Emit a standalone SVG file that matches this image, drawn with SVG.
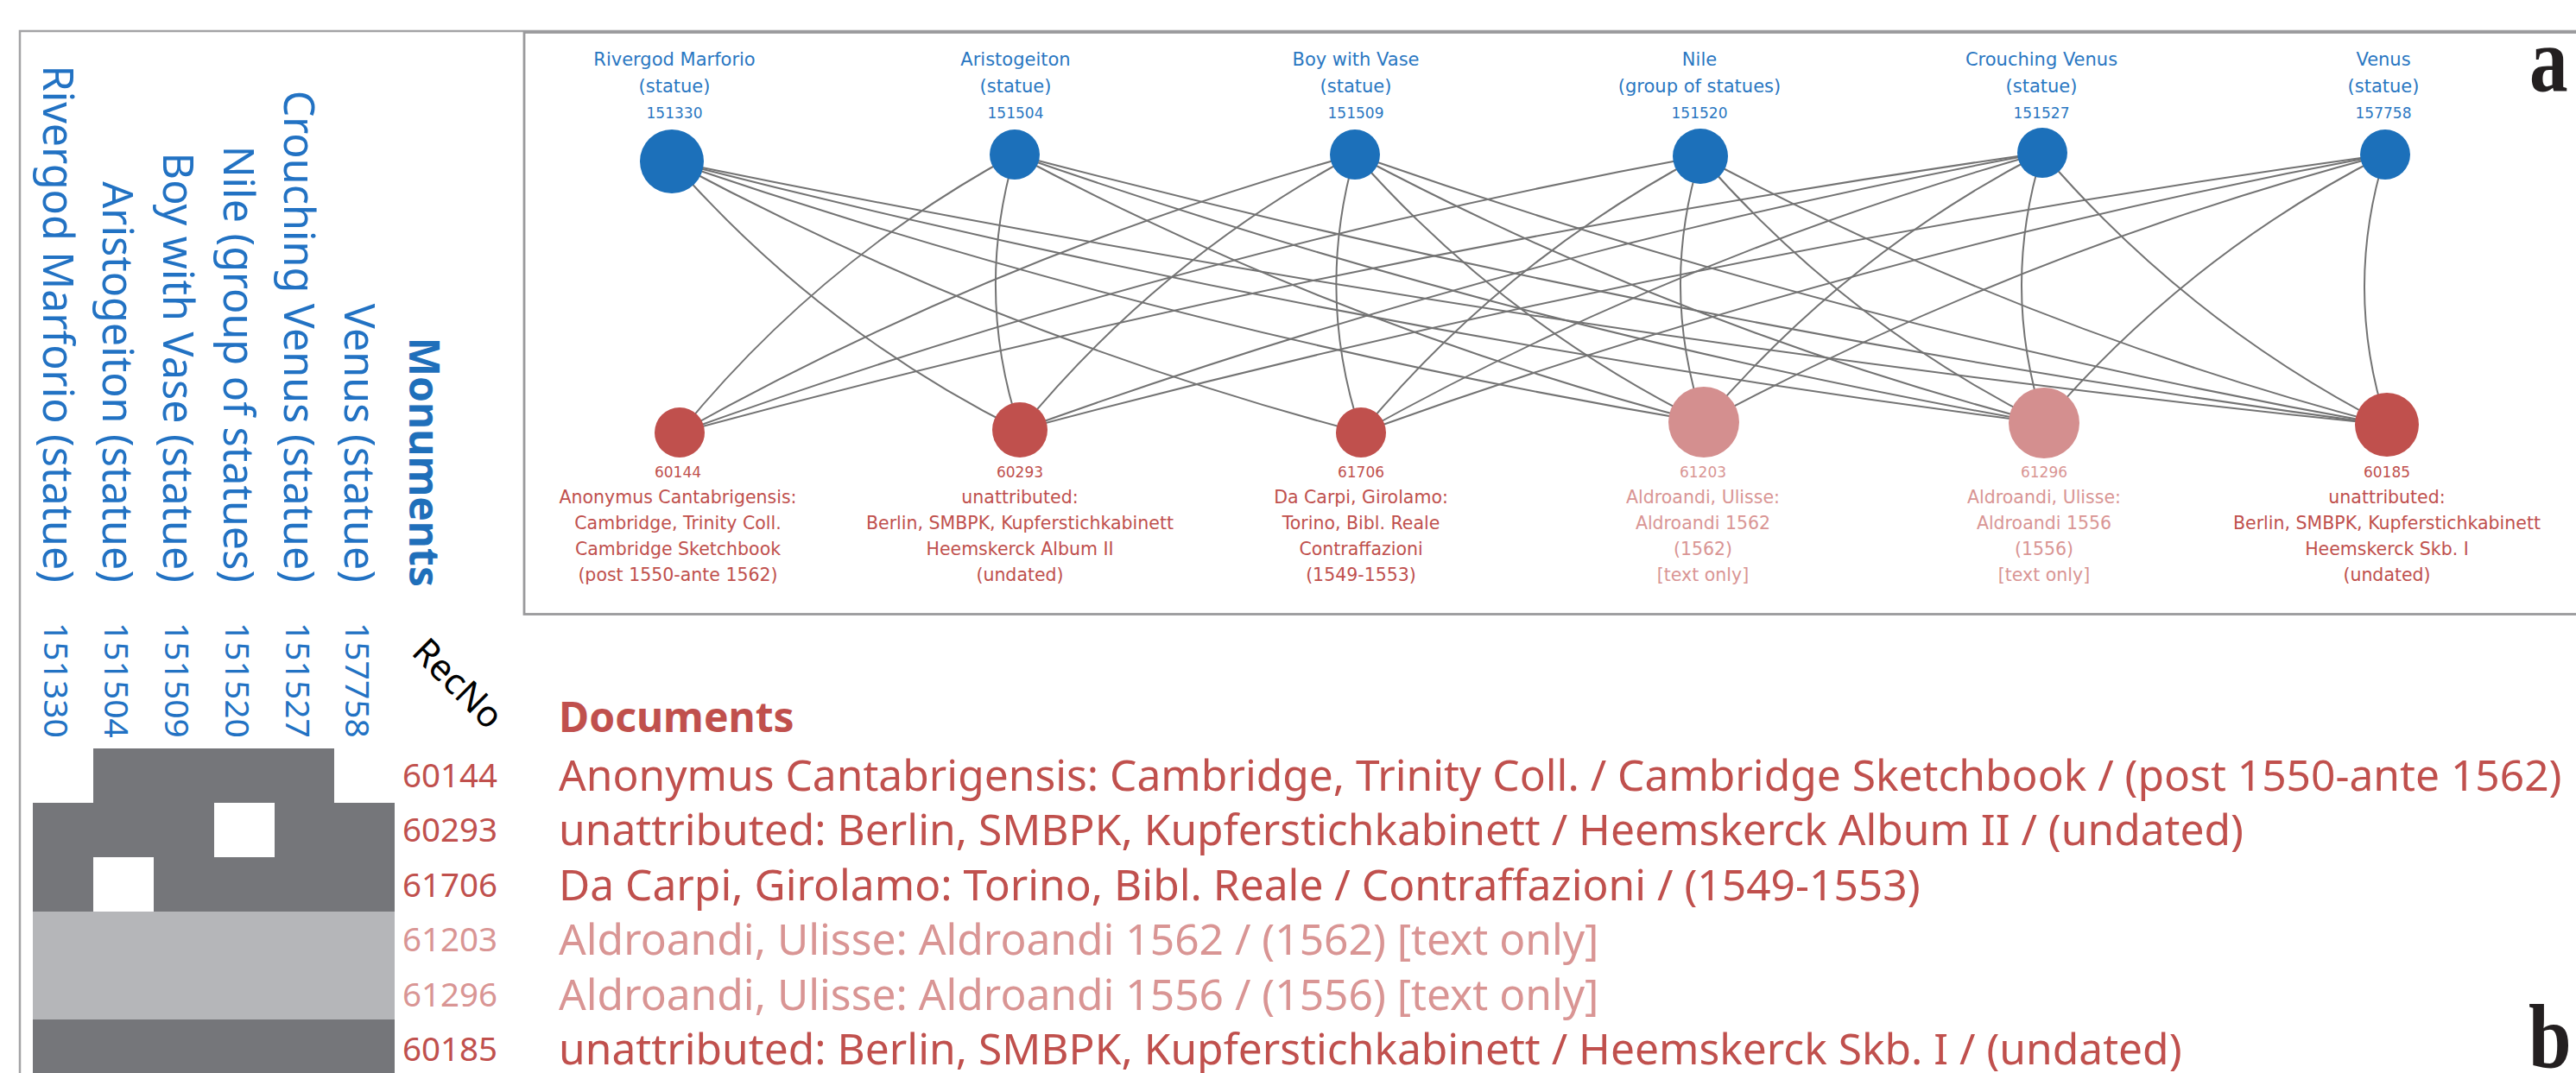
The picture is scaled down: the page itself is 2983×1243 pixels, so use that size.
<svg xmlns="http://www.w3.org/2000/svg" width="2983" height="1243" viewBox="0 0 2983 1243">
<style>
.edge{fill:none;stroke:#737373;stroke-width:2}
.mon{fill:#1c70ba}
.doc{fill:#c0504d}
.doct{fill:#d48f8f}
.tn{font-family:"DejaVu Sans",sans-serif;font-size:21px;fill:#2a77c2;text-anchor:middle}
.tid{font-family:"DejaVu Sans",sans-serif;font-size:17px;fill:#2a77c2;text-anchor:middle}
.bn{font-family:"DejaVu Sans",sans-serif;font-size:20.5px;fill:#c0504d;text-anchor:middle}
.bid{font-family:"DejaVu Sans",sans-serif;font-size:17px;fill:#c0504d;text-anchor:middle}
.cn{font-family:"Noto Sans",sans-serif;font-size:48.5px;fill:#2272c3}
.cid{font-family:"Noto Sans",sans-serif;font-size:39px;fill:#2272c3}
.rid{font-family:"Noto Sans",sans-serif;font-size:38.5px;fill:#c0504d}
.li{font-family:"Noto Sans",sans-serif;font-size:49.7px;fill:#c0504d}
.hd{font-family:"Noto Sans",sans-serif;font-size:48px;font-weight:bold}
.pl{font-family:"Liberation Serif",serif;font-size:105px;font-weight:bold;fill:#231f20}
.dk{fill:#75767a}
.lg{fill:#b5b6b9}
text.lt{fill:#d99594}
</style>
<rect width="2983" height="1243" fill="#ffffff"/>
<rect x="23" y="36" width="3000" height="1260" fill="none" stroke="#a3a3a5" stroke-width="2.5"/>
<rect x="607" y="37.5" width="2450" height="674" fill="none" stroke="#9a9a9c" stroke-width="2.8"/>

<g id="connectors">
<path class="edge" d="M1175,179 Q949.1,301.5 787,501"/>
<path class="edge" d="M1569,179 Q1159,293.8 787,501"/>
<path class="edge" d="M1969,181 Q1364.9,292.7 787,501"/>
<path class="edge" d="M2365,177 Q1565.9,290 787,501"/>
<path class="edge" d="M778,187 Q948.95,382.1 1181,498"/>
<path class="edge" d="M1175,179 Q1128,339.4 1181,498"/>
<path class="edge" d="M1569,179 Q1343.2,299.9 1181,498"/>
<path class="edge" d="M2365,177 Q1759.9,289.2 1181,498"/>
<path class="edge" d="M2762,179 Q1961.6,289.5 1181,498"/>
<path class="edge" d="M778,187 Q1158.7,390.5 1576,501"/>
<path class="edge" d="M1569,179 Q1522.5,341.1 1576,501"/>
<path class="edge" d="M1969,181 Q1740.9,302.2 1576,501"/>
<path class="edge" d="M2365,177 Q1951.5,292.7 1576,501"/>
<path class="edge" d="M2762,179 Q2155.9,291.7 1576,501"/>
<path class="edge" d="M778,187 Q1363.25,386.5 1973,489"/>
<path class="edge" d="M1175,179 Q1555.9,380.6 1973,489"/>
<path class="edge" d="M1569,179 Q1740.6,373.7 1973,489"/>
<path class="edge" d="M1969,181 Q1921,335.65 1973,489"/>
<path class="edge" d="M2365,177 Q2137.9,293.9 1973,489"/>
<path class="edge" d="M2762,179 Q2349.2,287.5 1973,489"/>
<path class="edge" d="M778,187 Q1563.1,387.6 2367,490"/>
<path class="edge" d="M1175,179 Q1758.4,382.9 2367,490"/>
<path class="edge" d="M1569,179 Q1949.8,381.1 2367,490"/>
<path class="edge" d="M1969,181 Q2137.3,375 2367,490"/>
<path class="edge" d="M2365,177 Q2316,333.8 2367,490"/>
<path class="edge" d="M2762,179 Q2533.6,295.2 2367,490"/>
<path class="edge" d="M778,187 Q1763.4,388.9 2764,492"/>
<path class="edge" d="M1175,179 Q1959.8,384.6 2764,492"/>
<path class="edge" d="M1569,179 Q2153.8,383.9 2764,492"/>
<path class="edge" d="M1969,181 Q2348.3,383.1 2764,492"/>
<path class="edge" d="M2365,177 Q2533.5,373.7 2764,492"/>
<path class="edge" d="M2762,179 Q2713,335.8 2764,492"/>
</g>

<g id="m151330">
<circle class="mon" cx="778" cy="187" r="37"/>
<text class="tn" x="781" y="76">Rivergod Marforio</text>
<text class="tn" x="781" y="107">(statue)</text>
<text class="tid" x="781" y="137">151330</text>
</g>
<g id="m151504">
<circle class="mon" cx="1175" cy="179" r="29"/>
<text class="tn" x="1176" y="76">Aristogeiton</text>
<text class="tn" x="1176" y="107">(statue)</text>
<text class="tid" x="1176" y="137">151504</text>
</g>
<g id="m151509">
<circle class="mon" cx="1569" cy="179" r="29"/>
<text class="tn" x="1570" y="76">Boy with Vase</text>
<text class="tn" x="1570" y="107">(statue)</text>
<text class="tid" x="1570" y="137">151509</text>
</g>
<g id="m151520">
<circle class="mon" cx="1969" cy="181" r="32"/>
<text class="tn" x="1968" y="76">Nile</text>
<text class="tn" x="1968" y="107">(group of statues)</text>
<text class="tid" x="1968" y="137">151520</text>
</g>
<g id="m151527">
<circle class="mon" cx="2365" cy="177" r="29"/>
<text class="tn" x="2364" y="76">Crouching Venus</text>
<text class="tn" x="2364" y="107">(statue)</text>
<text class="tid" x="2364" y="137">151527</text>
</g>
<g id="m157758">
<circle class="mon" cx="2762" cy="179" r="29"/>
<text class="tn" x="2760" y="76">Venus</text>
<text class="tn" x="2760" y="107">(statue)</text>
<text class="tid" x="2760" y="137">157758</text>
</g>

<g id="d60144">
<circle class="doc" cx="787" cy="501" r="29"/>
<text class="bid" x="785" y="553">60144</text>
<text class="bn" x="785" y="583">Anonymus Cantabrigensis:</text>
<text class="bn" x="785" y="613">Cambridge, Trinity Coll.</text>
<text class="bn" x="785" y="643">Cambridge Sketchbook</text>
<text class="bn" x="785" y="673">(post 1550-ante 1562)</text>
</g>
<g id="d60293">
<circle class="doc" cx="1181" cy="498" r="32"/>
<text class="bid" x="1181" y="553">60293</text>
<text class="bn" x="1181" y="583">unattributed:</text>
<text class="bn" x="1181" y="613">Berlin, SMBPK, Kupferstichkabinett</text>
<text class="bn" x="1181" y="643">Heemskerck Album II</text>
<text class="bn" x="1181" y="673">(undated)</text>
</g>
<g id="d61706">
<circle class="doc" cx="1576" cy="501" r="29"/>
<text class="bid" x="1576" y="553">61706</text>
<text class="bn" x="1576" y="583">Da Carpi, Girolamo:</text>
<text class="bn" x="1576" y="613">Torino, Bibl. Reale</text>
<text class="bn" x="1576" y="643">Contraffazioni</text>
<text class="bn" x="1576" y="673">(1549-1553)</text>
</g>
<g id="d61203">
<circle class="doct" cx="1973" cy="489" r="41"/>
<text class="bid lt" x="1972" y="553">61203</text>
<text class="bn lt" x="1972" y="583">Aldroandi, Ulisse:</text>
<text class="bn lt" x="1972" y="613">Aldroandi 1562</text>
<text class="bn lt" x="1972" y="643">(1562)</text>
<text class="bn lt" x="1972" y="673">[text only]</text>
</g>
<g id="d61296">
<circle class="doct" cx="2367" cy="490" r="41"/>
<text class="bid lt" x="2367" y="553">61296</text>
<text class="bn lt" x="2367" y="583">Aldroandi, Ulisse:</text>
<text class="bn lt" x="2367" y="613">Aldroandi 1556</text>
<text class="bn lt" x="2367" y="643">(1556)</text>
<text class="bn lt" x="2367" y="673">[text only]</text>
</g>
<g id="d60185">
<circle class="doc" cx="2764" cy="492" r="37"/>
<text class="bid" x="2764" y="553">60185</text>
<text class="bn" x="2764" y="583">unattributed:</text>
<text class="bn" x="2764" y="613">Berlin, SMBPK, Kupferstichkabinett</text>
<text class="bn" x="2764" y="643">Heemskerck Skb. I</text>
<text class="bn" x="2764" y="673">(undated)</text>
</g>

<text class="pl" transform="translate(2929,105) scale(0.85,1)">a</text>
<text class="pl" transform="translate(2928,1237) scale(0.85,1)">b</text>

<g id="matrix" shape-rendering="crispEdges">
<rect class="dk" x="108" y="867" width="279" height="63"/>
<rect class="dk" x="38" y="930" width="419" height="126"/>
<rect fill="#ffffff" x="248" y="930" width="70" height="63"/>
<rect fill="#ffffff" x="108" y="993" width="70" height="63"/>
<rect class="lg" x="38" y="1056" width="419" height="125"/>
<rect class="dk" x="38" y="1181" width="419" height="63"/>
</g>

<g id="columns">
<text class="hd" fill="#1f6fba" text-anchor="end" transform="translate(474,680) rotate(90)">Monuments</text>
<text class="cn" text-anchor="end" transform="translate(49.5,675) rotate(90)">Rivergod Marforio (statue)</text>
<text class="cn" text-anchor="end" transform="translate(119.3,675) rotate(90)">Aristogeiton (statue)</text>
<text class="cn" text-anchor="end" transform="translate(189.1,675) rotate(90)">Boy with Vase (statue)</text>
<text class="cn" text-anchor="end" transform="translate(258.9,675) rotate(90)">Nile (group of statues)</text>
<text class="cn" text-anchor="end" transform="translate(328.7,675) rotate(90)">Crouching Venus (statue)</text>
<text class="cn" text-anchor="end" transform="translate(398.5,675) rotate(90)">Venus (statue)</text>
<text class="cid" transform="translate(51.4,721) rotate(90)">151330</text>
<text class="cid" transform="translate(121.2,721) rotate(90)">151504</text>
<text class="cid" transform="translate(191,721) rotate(90)">151509</text>
<text class="cid" transform="translate(260.8,721) rotate(90)">151520</text>
<text class="cid" transform="translate(330.6,721) rotate(90)">151527</text>
<text class="cid" transform="translate(400.4,721) rotate(90)">157758</text>
<text font-family="Noto Sans, sans-serif" font-size="42" fill="#000000" transform="translate(475,757) rotate(45)">RecNo</text>
</g>

<g id="rows">
<text class="rid" x="466" y="912">60144</text>
<text class="rid" x="466" y="975">60293</text>
<text class="rid" x="466" y="1039">61706</text>
<text class="rid lt" x="466" y="1102">61203</text>
<text class="rid lt" x="466" y="1166">61296</text>
<text class="rid" x="466" y="1229">60185</text>
</g>

<g id="documents">
<text class="hd" fill="#c0504d" x="647" y="848">Documents</text>
<text class="li" x="647" y="916">Anonymus Cantabrigensis: Cambridge, Trinity Coll. / Cambridge Sketchbook / (post 1550-ante 1562)</text>
<text class="li" x="647" y="979">unattributed: Berlin, SMBPK, Kupferstichkabinett / Heemskerck Album II / (undated)</text>
<text class="li" x="647" y="1043">Da Carpi, Girolamo: Torino, Bibl. Reale / Contraffazioni / (1549-1553)</text>
<text class="li lt" x="647" y="1106">Aldroandi, Ulisse: Aldroandi 1562 / (1562) [text only]</text>
<text class="li lt" x="647" y="1170">Aldroandi, Ulisse: Aldroandi 1556 / (1556) [text only]</text>
<text class="li" x="647" y="1233">unattributed: Berlin, SMBPK, Kupferstichkabinett / Heemskerck Skb. I / (undated)</text>
</g>
</svg>
